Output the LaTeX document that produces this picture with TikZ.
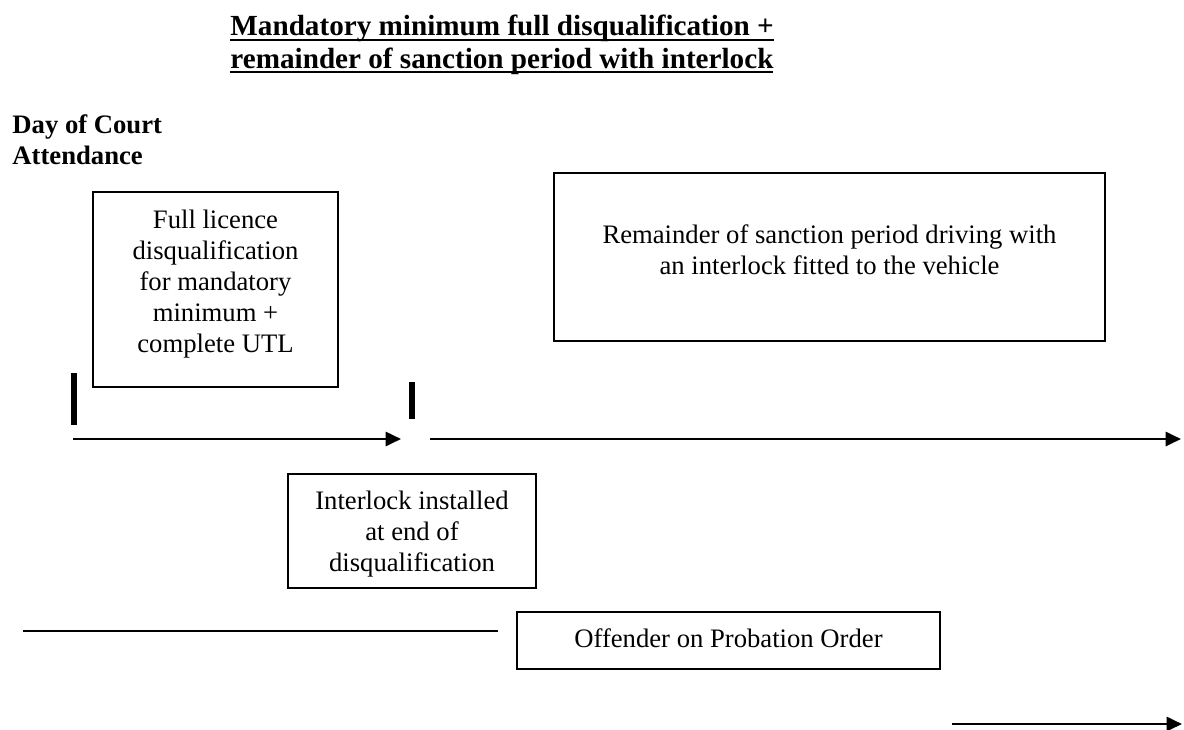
\documentclass[tikz,border=0pt]{standalone}
\usepackage{fontspec}
\setmainfont{Liberation Serif}
\usetikzlibrary{arrows.meta,fit}
\newsavebox\ulinebox
\newcommand\ulin[1]{\sbox\ulinebox{#1}\rlap{\rule[-2.5pt]{\wd\ulinebox}{1.2pt}}\usebox\ulinebox}
\begin{document}
\begin{tikzpicture}[x=0.48pt,y=-0.48pt,
	txt/.style={inner sep=0pt,align=center,font=\fontsize{12.8}{14.9}\selectfont},
	head/.style={inner sep=0pt,align=left,anchor=north west,font=\fontsize{12.8}{14.9}\selectfont\bfseries},
	box/.style={draw,line width=1pt,inner sep=0pt},
	timeline/.style={line width=1.2pt,-{Triangle[length=7.4pt,width=6.8pt]}},
	tick/.style={line width=2.8pt}]
			\useasboundingbox (0,0) rectangle (1184,729);
			\node[head,font=\fontsize{14}{15.4}\selectfont\bfseries] (title) at (230,15) {\ulin{Mandatory minimum full disqualification +}\\\ulin{remainder of sanction period with interlock}};
			\node[head] (court) at (12,114.5) {Day of Court\\Attendance};
			\node[box,fit={(93,192) (338,387)}] (fullbox) {};
			\node[txt] (fulltxt) at (215.5,284) {Full licence\\disqualification\\for mandatory\\minimum +\\complete UTL};
			\node[box,fit={(554,173) (1105,341)}] (restbox) {};
			\node[txt] (resttxt) at (829.5,249.5) {Remainder of sanction period driving with\\an interlock fitted to the vehicle};
			\node[box,fit={(288,474) (536,588)}] (fitbox) {};
			\node[txt] (fittxt) at (412,534) {Interlock installed\\at end of\\disqualification};
			\node[box,fit={(517,612) (940,669)}] (probbox) {};
			\node[txt] (probtxt) at (728.5,638.5) {Offender on Probation Order};
			\draw[tick] (74,373) -- (74,425);
			\draw[tick] (412,382) -- (412,419);
			\coordinate (disqstart) at (73,439); \coordinate (disqend) at (401,439);
			\coordinate (lockstart) at (430,439); \coordinate (lockend) at (1181,439);
			\coordinate (probstart) at (23,631); \coordinate (probstop) at (498,631);
			\coordinate (probgo) at (952,724); \coordinate (probend) at (1182,724);
			\draw[timeline] (disqstart) -- (disqend);
			\draw[timeline] (lockstart) -- (lockend);
			\draw[line width=1.2pt] (probstart) -- (probstop);
			\draw[timeline] (probgo) -- (probend);
		\end{tikzpicture}
\end{document}
